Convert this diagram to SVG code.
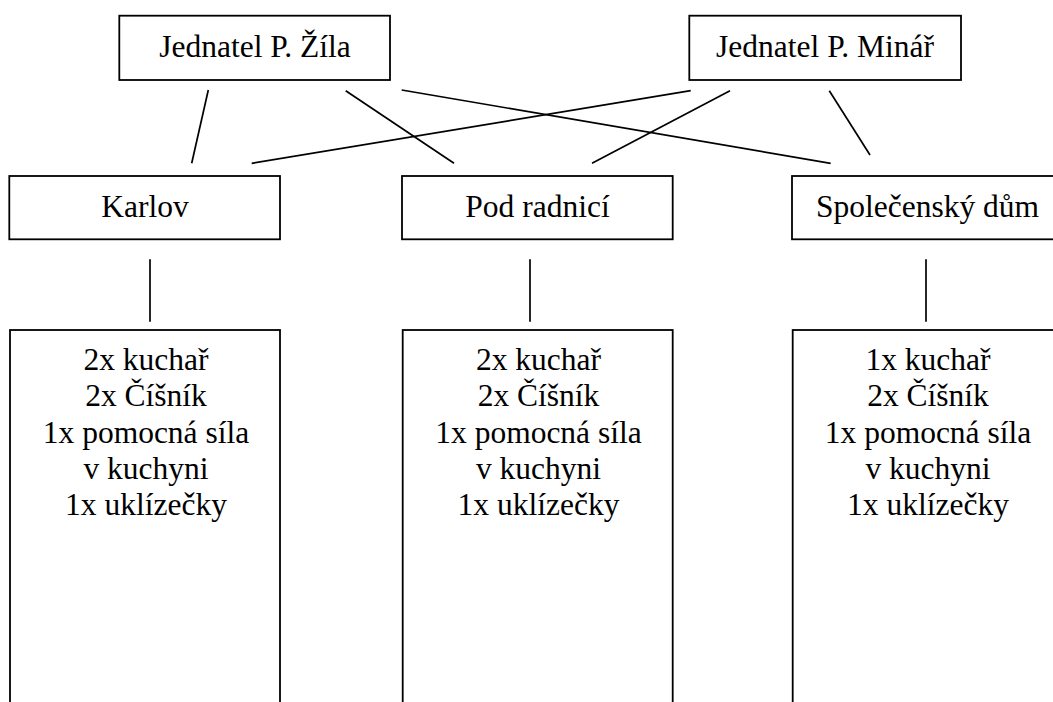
<svg xmlns="http://www.w3.org/2000/svg" width="1053" height="702" viewBox="0 0 1053 702">
<style>
rect.box{fill:#fff;stroke:#000;stroke-width:1.8}
text{font-family:"Liberation Serif","Times New Roman",serif;font-size:31.5px;fill:#000;text-anchor:middle}
#connectors line{stroke:#000;stroke-width:1.7}
</style>
<rect width="1053" height="702" fill="#fff"/>
<g id="connectors">
<line x1="208.3" y1="90" x2="191.7" y2="163.3"/>
<line x1="345.7" y1="90.7" x2="454" y2="163.3"/>
<line x1="401.7" y1="90" x2="830.7" y2="163.3"/>
<line x1="690.7" y1="90.7" x2="251.7" y2="163.3"/>
<line x1="730" y1="90.7" x2="592" y2="163.3"/>
<line x1="829.3" y1="90.7" x2="870" y2="155"/>
<line x1="150" y1="259.3" x2="150" y2="321.7"/>
<line x1="530" y1="259.3" x2="530" y2="321.7"/>
<line x1="926" y1="259.3" x2="926" y2="321.7"/>
</g>
<g id="zila">
<rect class="box" x="119.3" y="15.7" width="270.7" height="64.3"/>
<text x="255" y="57">Jednatel P. Žíla</text>
</g>
<g id="minar">
<rect class="box" x="689.3" y="15.7" width="271.7" height="64.3"/>
<text x="825" y="57">Jednatel P. Minář</text>
</g>
<g id="karlov">
<rect class="box" x="9.3" y="176" width="270.7" height="63.3"/>
<text x="145" y="217.3">Karlov</text>
</g>
<g id="podradnici">
<rect class="box" x="402" y="176" width="270.7" height="63.3"/>
<text x="537.5" y="217.3">Pod radnicí</text>
</g>
<g id="spolecensky">
<rect class="box" x="792" y="176" width="271" height="63.3"/>
<text x="927.5" y="217.3">Společenský dům</text>
</g>
<g id="karlov-staff">
<rect class="box" x="10" y="330" width="270" height="400"/>
<text x="146" y="370">2x kuchař</text>
<text x="146" y="406">2x Číšník</text>
<text x="146" y="442.5">1x pomocná síla</text>
<text x="146" y="478.5">v kuchyni</text>
<text x="146" y="515">1x uklízečky</text>
</g>
<g id="podradnici-staff">
<rect class="box" x="402.7" y="330" width="270" height="400"/>
<text x="538.5" y="370">2x kuchař</text>
<text x="538.5" y="406">2x Číšník</text>
<text x="538.5" y="442.5">1x pomocná síla</text>
<text x="538.5" y="478.5">v kuchyni</text>
<text x="538.5" y="515">1x uklízečky</text>
</g>
<g id="spolecensky-staff">
<rect class="box" x="792.7" y="330" width="271" height="400"/>
<text x="928" y="370">1x kuchař</text>
<text x="928" y="406">2x Číšník</text>
<text x="928" y="442.5">1x pomocná síla</text>
<text x="928" y="478.5">v kuchyni</text>
<text x="928" y="515">1x uklízečky</text>
</g>
</svg>
